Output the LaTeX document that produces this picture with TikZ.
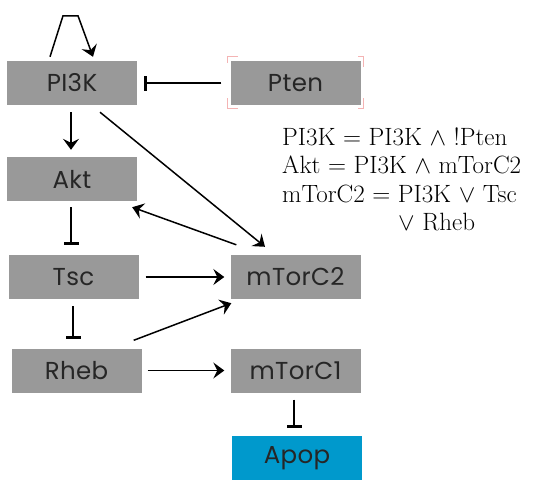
\documentclass[tikz,border=0pt]{standalone}
\usepackage{fontspec}
\newfontfamily\boxfont[LetterSpace=1.5]{Poppins}
\usetikzlibrary{arrows.meta,calc}
\definecolor{boxgray}{HTML}{999999}
\definecolor{apopblue}{HTML}{0099CC}
\definecolor{selpink}{HTML}{F4B4B4}
\tikzset{
  gene/.style={fill=boxgray, minimum width=130pt, minimum height=44pt, inner sep=0pt,
    font=\boxfont\fontsize{24.5}{28}\selectfont, text=black!85},
  act/.style={line width=1.5pt, -{Stealth[length=11pt,width=16pt,inset=4pt]}},
  inh/.style={line width=1.5pt, -{Bar[width=15pt,line width=3pt]}},
  eq/.style={anchor=base west, inner sep=0pt, font=\fontsize{25}{28}\selectfont},
  selmark/.style={draw=selpink, line width=0.8pt}
}
\begin{document}
\begin{tikzpicture}[x=1pt,y=-1pt]
\useasboundingbox (0,0) rectangle (534,479);
\node[gene] (PI3K) at (72,83) {PI3K};
\node[gene] (Pten) at (295.5,83) {Pten};
\node[gene] (Akt) at (72,179) {Akt};
\node[gene] (Tsc) at (73.5,277) {Tsc};
\node[gene] (mTorC2) at (295.5,277) {mTorC2};
\node[gene] (Rheb) at (76.5,370.5) {Rheb};
\node[gene] (mTorC1) at (295.5,370.5) {mTorC1};
\node[gene, fill=apopblue] (Apop) at (297,458) {Apop};

% selection corner marks around Pten
\draw[selmark] ($(Pten.north west)+(-3,-4)$) coordinate (tl) -- ++(11,0);
\draw[selmark] (tl) -- ++(0,6);
\draw[selmark] ($(Pten.south west)+(-3,3)$) coordinate (bl) -- ++(11,0);
\draw[selmark] (bl) -- ++(0,-10);
\draw[selmark] ($(Pten.north east)+(3,-4)$) coordinate (tr) -- ++(-6,0);
\draw[selmark] (tr) -- ++(0,10);
\draw[selmark] ($(Pten.south east)+(3,3)$) coordinate (br) -- ++(-6,0);
\draw[selmark] (br) -- ++(0,-10);

% self loop on PI3K
\draw[act] ($(PI3K.north)+(-22,-4)$) -- ($(PI3K.north)+(-9,-45)$) -- ($(PI3K.north)+(6,-45)$) -- ($(PI3K.north)+(21,-4)$);

\draw[inh] ([xshift=-9pt]Pten.west) -- ([xshift=7pt]PI3K.east);
\draw[act] ($(PI3K.south)+(-1,7)$) -- ($(Akt.north)+(-1,-7)$);
\draw[act] ($(PI3K.south)+(28,7)$) -- ($(mTorC2.north)+(-30.5,-8)$);
\draw[act] ($(mTorC2.north west)+(6,-10)$) -- ($(Akt.south east)+(-5,6)$);
\draw[inh] ($(Akt.south)+(-1,6)$) -- ($(Akt.south)+(-1,44)$);
\draw[act] ([xshift=7pt]Tsc.east) -- ([xshift=-6pt]mTorC2.west);
\draw[inh] ($(Tsc.south)+(-0.5,7)$) -- ($(Tsc.south)+(-0.5,40)$);
\draw[act] ($(Rheb.north east)+(-8,-8)$) -- ($(mTorC2.south west)+(1,4)$);
\draw[act] ([xshift=6pt]Rheb.east) -- ([xshift=-6pt]mTorC1.west);
\draw[inh] ($(mTorC1.south)+(-1.5,7)$) -- ($(mTorC1.south)+(-1.5,35)$);

% rules
\node[eq] (r1) at (282,145) {PI3K = PI3K $\wedge$ !Pten};
\node[eq] (r2) at (282,173.5) {Akt = PI3K $\wedge$ mTorC2};
\node[eq] (r3) at (282,202) {mTorC2 = PI3K $\vee$ Tsc};
\node[eq] (r4) at (398,230.5) {$\vee$ Rheb};
\end{tikzpicture}
\end{document}
